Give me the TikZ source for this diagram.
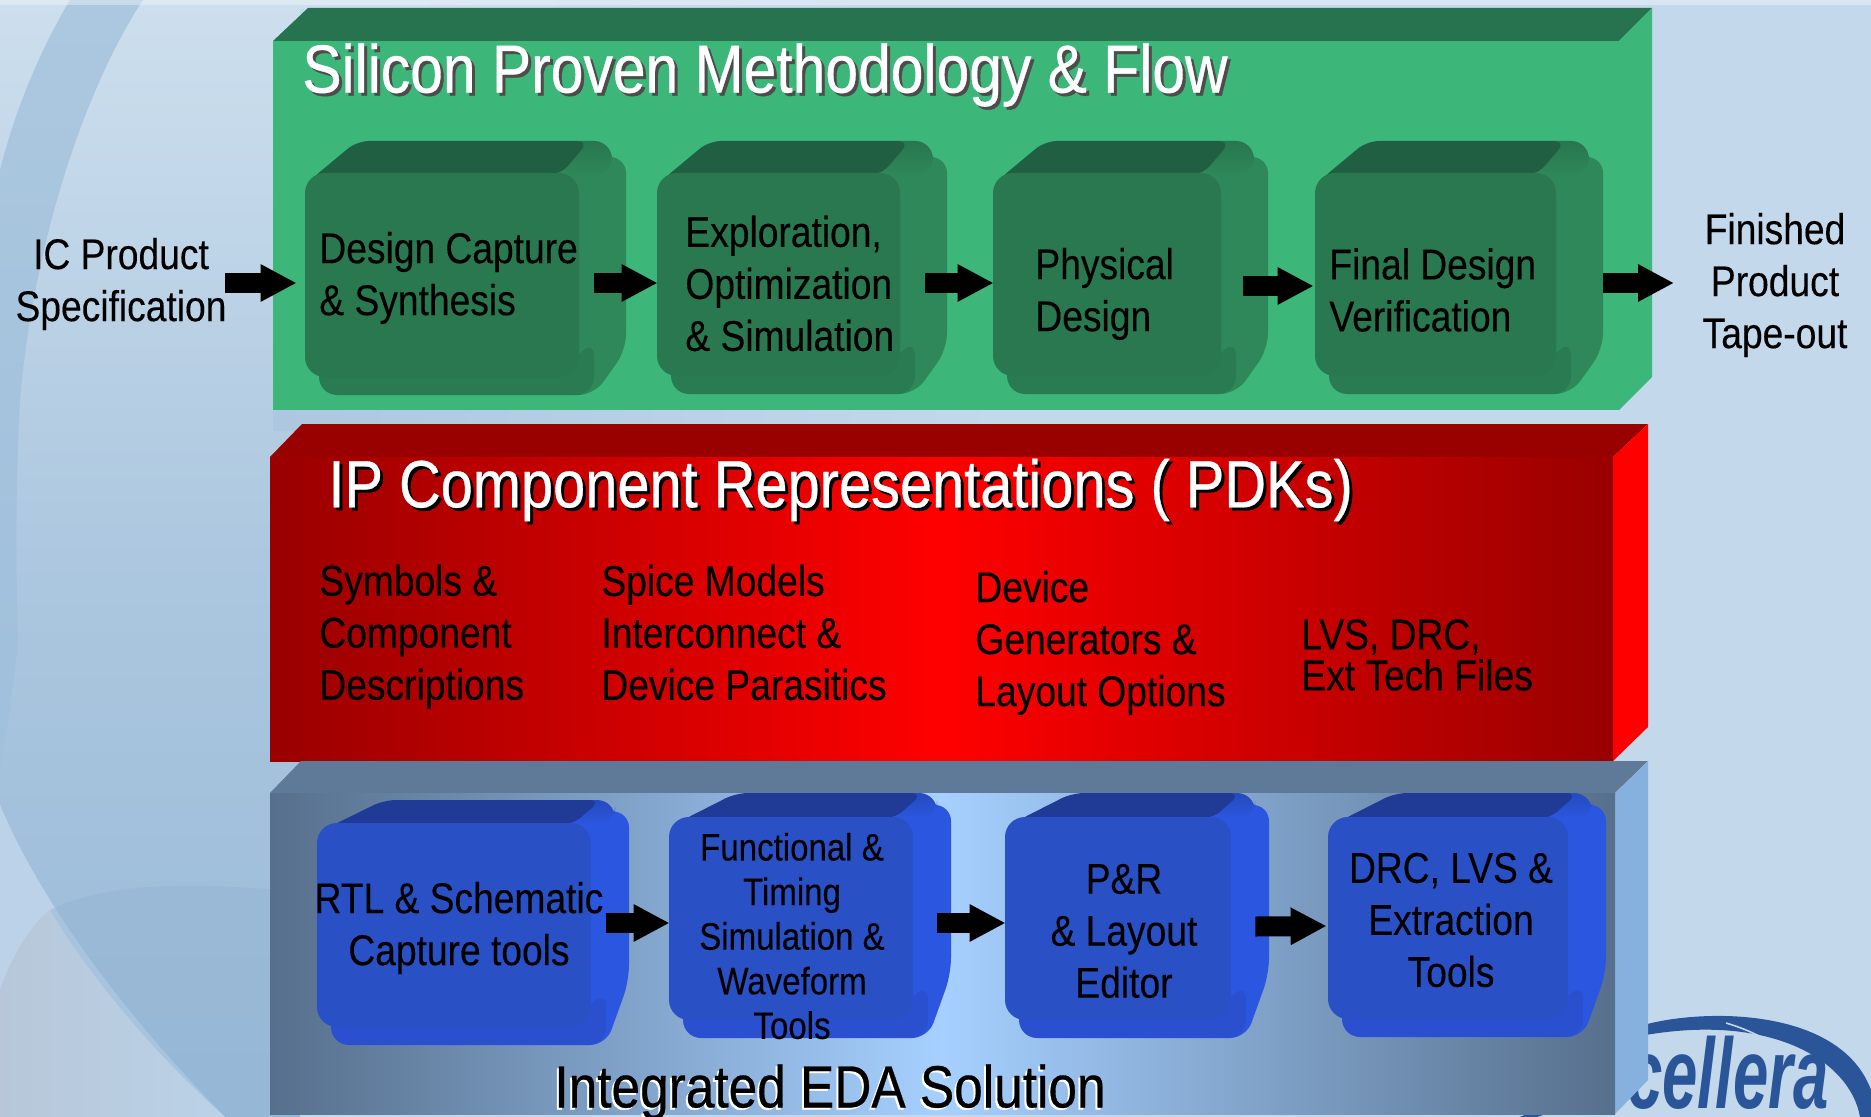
\documentclass[tikz,border=0pt]{standalone}
\usepackage{fontspec}
\setmainfont[FakeStretch=0.865,FakeBold=0.2]{Liberation Sans}
\newfontfamily\titlefont[FakeStretch=0.865,FakeBold=0.5]{Liberation Sans}
\newfontfamily\logofont[BoldFont={Liberation Sans Bold},ItalicFont={Liberation Sans Italic},BoldItalicFont={Liberation Sans Bold Italic}]{Liberation Sans}
\usetikzlibrary{arrows.meta,calc}
\definecolor{frontg}{HTML}{29784F}\definecolor{topg}{HTML}{215F42}\definecolor{sideg}{HTML}{2E8859}\definecolor{plateg}{HTML}{2A7B52}
\definecolor{frontb}{HTML}{2A50C5}\definecolor{topb}{HTML}{1F3B96}\definecolor{sideb}{HTML}{2B57E0}\definecolor{plateb}{HTML}{2A50D0}
\definecolor{panelg}{HTML}{3CB679}\definecolor{panelgtop}{HTML}{277350}
\definecolor{reddark}{HTML}{990000}
\definecolor{slate}{HTML}{566F8C}\definecolor{slatetop}{HTML}{5E7A98}\definecolor{skyb}{HTML}{A6D0FF}\definecolor{sideblue}{HTML}{86B1DF}
\definecolor{bgr}{HTML}{C4D8EC}\definecolor{bgtop}{HTML}{CDDFEE}\definecolor{bgmid}{HTML}{ACC7DF}\definecolor{bgbot}{HTML}{99BAD8}
\definecolor{bgband}{HTML}{9FBFDB}\definecolor{bgpale}{HTML}{BBD2E8}\definecolor{bgarc}{HTML}{94B5D4}\definecolor{bggrey}{HTML}{B7C7D9}
\definecolor{logo}{HTML}{2A5598}
\def\outerg{47}\def\outerb{38}
\newcommand{\cubebox}[9]{%
  \pgfmathsetmacro{\boxout}{#3+\csname outer#6\endcsname}
  \fill[side#6,rounded corners=8pt] ({#3-20},{#2-#7/2}) -- (\boxout,{#2-#7/2}) -- (\boxout,{#4-#9}) -- ({#3+15},{#4+18}) -- ({#3-20},{#4+18}) -- cycle;
  \shade[top color=side#6!55!top#6,bottom color=side#6,rounded corners=9pt] ({#3-20},{#2-#7}) -- ({\boxout-14},{#2-#7}) -- ({\boxout-14},{#2+2}) -- ({#3-20},{#2+2}) -- cycle;
  \fill[plate#6,rounded corners=9pt] ({#1+14},{#4-30}) -- ({#3-10},{#4-30}) -- ({#3-10},{#4-12}) -- ({#3+15},{#4-38}) -- ({#3+15},{#4+18}) -- ({#1+14},{#4+18}) -- cycle;
  \fill[top#6,rounded corners=6pt] ({#1+4},{#2+8}) -- ({#1+#8},{#2-#7}) -- ({#3+10},{#2-#7}) -- ({#3-19},{#2+2}) -- cycle;
  \node[frontface,fill=front#6,minimum width={(#3-#1)*0.5pt},minimum height={(#4-#2)*0.5pt}] (#5) at ({(#1+#3)/2},{(#2+#4)/2}) {};
}
\tikzset{
  frontface/.style={rectangle,rounded corners=10pt,inner sep=0pt},
  lbl/.style={inner sep=0pt,text=black,font=\fontsize{21.5}{26}\selectfont},
  lblleft/.style={lbl,align=left,anchor=west},
  lblmid/.style={lbl,align=center,anchor=center},
  bigtitle/.style={inner sep=0pt,anchor=west,font=\titlefont\fontsize{34}{38}\selectfont},
  flow/.style={line width=10pt,draw=black,-{Triangle[length=18pt,width=17.5pt]}},
}
\begin{document}
\begin{tikzpicture}[x=0.5pt,y=-0.5pt]
\useasboundingbox (0,0) rectangle (1871,1117);
\clip (0,0) rectangle (1871,1117);
% background
\fill[bgr] (0,0) rectangle (1871,1117);
\shade[top color=bgtop,bottom color=bgbot,middle color=bgmid] (0,0) rectangle (300,1117);
\fill[bgband,opacity=.7] (70,0) -- (143,0) .. controls (90,80) and (35,230) .. (20,400) .. controls (15,500) and (16,580) .. (18,640) .. controls (14,690) and (6,730) .. (0,770) -- (0,170) .. controls (15,110) and (40,50) .. (70,0) -- cycle;
\fill[bgpale] (0,805) .. controls (40,900) and (120,1010) .. (225,1117) -- (0,1117) -- cycle;
\fill[bgarc,opacity=.5] (50,910) .. controls (100,885) and (180,880) .. (300,892) -- (300,1117) -- (225,1117) .. controls (150,1050) and (90,980) .. (50,910) -- cycle;
\shade[left color=bggrey,right color=bgpale] (0,990) .. controls (10,960) and (30,925) .. (50,910) .. controls (85,970) and (150,1050) .. (225,1117) -- (0,1117) -- cycle;
\shade[left color=bgmid,right color=bgr] (273,400) rectangle (1000,430);
\fill[bgr] (1000,400) rectangle (1660,430);
\shade[left color=bgtop,right color=bgr] (273,0) rectangle (1000,9);
\fill[white,opacity=.35] (0,0) rectangle (1871,5);
% logo
\draw[logo,line width=3pt] (1520,1120) .. controls (1540,1112) and (1580,1100) .. (1620,1090);
\fill[logo] (1640,1026) .. controls (1700,1008) and (1840,1006) .. (1871,1090) -- (1871,1117) -- (1860,1117) .. controls (1850,1060) and (1770,1012) .. (1640,1036) -- cycle;
\draw[bgr,line width=.8pt] (1726,1023) .. controls (1750,1030) and (1775,1042) .. (1792,1060);
\node[inner sep=0pt,anchor=base west,text=logo,xscale=.635,font=\logofont\fontsize{50}{52}\selectfont\bfseries\itshape] (logotext) at (1627,1108) {cellera};
% green panel
\fill[panelgtop] (273,41) -- (308,8) -- (1652,8) -- (1619,41) -- cycle;
\fill[panelg] (1619,41) -- (1652,8) -- (1652,377) -- (1619,410) -- cycle;
\fill[panelg] (273,41) rectangle (1619,410);
% red panel
\fill[reddark] (270,457) -- (302,424) -- (1648,424) -- (1613,457) -- cycle;
\fill[red] (1613,457) -- (1648,424) -- (1648,727) -- (1613,761) -- cycle;
\shade[left color=reddark,right color=reddark,middle color=red] (270,457) rectangle (1613,761);
% blue panel
\fill[slatetop] (270,793) -- (301,761) -- (1648,761) -- (1615,793) -- cycle;
\fill[sideblue] (1615,793) -- (1648,761) -- (1648,1080) -- (1615,1114) -- cycle;
\shade[left color=slate,right color=slate,middle color=skyb] (270,793) rectangle (1615,1114);
% green boxes
\cubebox{305}{173}{579}{377}{g1}{g}{32}{52}{27}
\cubebox{657}{173}{900}{376}{g2}{g}{32}{52}{27}
\cubebox{993}{173}{1221}{376}{g3}{g}{32}{52}{27}
\cubebox{1315}{173}{1556}{376}{g4}{g}{32}{52}{27}
% blue boxes
\cubebox{317}{823}{591}{1027}{b1}{b}{23}{67}{46}
\cubebox{669}{817}{913}{1020}{b2}{b}{24}{67}{46}
\cubebox{1005}{817}{1231}{1020}{b3}{b}{24}{67}{46}
\cubebox{1328}{817}{1568}{1019}{b4}{b}{24}{67}{46}
% titles
\node[bigtitle,text=black!70] (t1s) at (305,78) {Silicon Proven Methodology \& Flow};
\node[bigtitle,text=white] (t1) at (302,75) {Silicon Proven Methodology \& Flow};
\node[bigtitle,font=\titlefont\fontsize{33.4}{38}\selectfont,text=black] (t2s) at (331,493) {IP Component Representations ( PDKs)};
\node[bigtitle,font=\titlefont\fontsize{33.4}{38}\selectfont,text=white] (t2) at (328,490) {IP Component Representations ( PDKs)};
\node[bigtitle,font=\titlefont\fontsize{29.7}{30}\selectfont,text=white] (t3s) at (552,1094) {Integrated EDA Solution};
\node[bigtitle,font=\titlefont\fontsize{29.7}{30}\selectfont,text=black] (t3) at (554,1092) {Integrated EDA Solution};
% side labels
\node[lblmid] (inp) at (121,284) {IC Product\\Specification};
\node[lblmid] (outp) at (1775,285) {Finished\\Product\\Tape-out};
% green labels
\node[lblleft] at (319,278) {Design Capture\\\& Synthesis};
\node[lblleft] at (685,283.5) {Exploration,\\Optimization\\\& Simulation};
\node[lblleft] at (1035,294) {Physical\\Design};
\node[lblleft] at (1329,290) {Final Design\\Verification};
% red labels
\node[lblleft] at (319,636.5) {Symbols \&\\Component\\Descriptions};
\node[lblleft] at (601,632.5) {Spice Models\\Interconnect \&\\Device Parasitics};
\node[lblleft] at (975,643) {Device\\Generators \&\\Layout Options};
\node[lblleft,font=\fontsize{21.5}{20.5}\selectfont] at (1301,655) {LVS, DRC,\\Ext Tech Files};
% blue labels
\node[lblmid] at (459,928) {RTL \& Schematic\\Capture tools};
\node[lblmid,font=\fontsize{19.1}{22.3}\selectfont] at (792,936) {Functional \&\\Timing\\Simulation \&\\Waveform\\Tools};
\node[lblmid] at (1124,931) {P\&R\\\& Layout\\Editor};
\node[lblmid] at (1451,920) {DRC, LVS \&\\Extraction\\Tools};
% connectors
\coordinate (instart) at (225,283);
\coordinate (outend) at (1674,283);
\draw[flow] (instart) -- ($(g1.west)+(-8,8)$ |- instart);
\draw[flow] ($(g1.east)+(15,8)$) -- ($(g2.west)+(1,8.5)$);
\draw[flow] ($(g2.east)+(25,8.5)$) -- ($(g3.west)+(1,8.5)$);
\draw[flow] ($(g3.east)+(22,11.5)$) -- ($(g4.west)+(-1,11.5)$);
\draw[flow] ($(g4.east)+(47,8.5)$) -- (outend);
\draw[flow] ($(b1.east)+(15,-2)$) -- ($(b2.west)+(1,4.5)$);
\draw[flow] ($(b2.east)+(24,4.5)$) -- ($(b3.west)+(1,4.5)$);
\draw[flow] ($(b3.east)+(24,8)$) -- ($(b4.west)+(-1,8)$);
\end{tikzpicture}
\end{document}
